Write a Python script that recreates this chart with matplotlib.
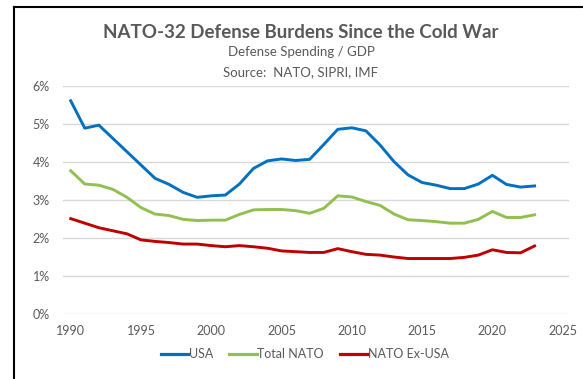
import matplotlib
matplotlib.use("Agg")
import matplotlib.pyplot as plt
from matplotlib.lines import Line2D
from matplotlib.ticker import FuncFormatter, MultipleLocator

plt.rcParams['font.family'] = ['Lato', 'DejaVu Sans']

years = list(range(1990, 2024))
usa = [5.61, 4.89, 4.97, 4.62, 4.27, 3.92, 3.57, 3.41, 3.20, 3.07,
       3.11, 3.13, 3.42, 3.83, 4.03, 4.08, 4.04, 4.07, 4.46, 4.86,
       4.90, 4.82, 4.45, 4.01, 3.66, 3.46, 3.39, 3.30, 3.30, 3.42,
       3.65, 3.41, 3.34, 3.37]
total_nato = [3.77, 3.42, 3.39, 3.28, 3.07, 2.80, 2.63, 2.59, 2.49, 2.46,
              2.47, 2.47, 2.62, 2.74, 2.75, 2.75, 2.72, 2.65, 2.78, 3.11,
              3.08, 2.96, 2.86, 2.63, 2.48, 2.46, 2.43, 2.39, 2.39, 2.49,
              2.70, 2.54, 2.54, 2.61]
nato_ex_usa = [2.51, 2.39, 2.27, 2.19, 2.11, 1.95, 1.91, 1.88, 1.84, 1.84,
               1.80, 1.77, 1.80, 1.77, 1.73, 1.66, 1.64, 1.62, 1.62, 1.72,
               1.64, 1.57, 1.55, 1.50, 1.46, 1.46, 1.46, 1.46, 1.49, 1.55,
               1.69, 1.62, 1.61, 1.79]
series_names = ["USA", "Total NATO", "NATO Ex-USA"]
colors = ["#0070C0", "#92C050", "#C00000"]
title = "NATO-32 Defense Burdens Since the Cold War"
subtitle1 = "Defense Spending / GDP"
subtitle2 = "Source:  NATO, SIPRI, IMF"

W, H = 583, 379
fig = plt.figure(figsize=(W / 100, H / 100), dpi=100)
ax = fig.add_axes([63 / W, 1 - 314 / H, (569 - 63) / W, (314 - 86) / H])

for vals, name, c in zip([usa, total_nato, nato_ex_usa], series_names, colors):
    ax.plot(years, vals, color=c, lw=2.1, label=name, solid_joinstyle='round')

ax.set_xlim(1989.45, 2025.45)
ax.set_ylim(0, 6)
ax.xaxis.set_major_locator(MultipleLocator(5))
ax.yaxis.set_major_locator(MultipleLocator(1))
ax.yaxis.set_major_formatter(FuncFormatter(lambda v, p: f"{int(round(v))}%"))
ax.grid(axis='y', color='#D9D9D9', lw=1)
ax.set_axisbelow(True)
for s in ax.spines.values():
    s.set_visible(False)
ax.tick_params(length=0, colors='#595959', labelsize=9)
ax.tick_params(axis='x', pad=8)
ax.tick_params(axis='y', pad=9.5)

fig.text(301 / W, 1 - 32 / H, title, ha='center', va='center',
         fontsize=13.5, fontweight='bold', color='#595959')
fig.text(301 / W, 1 - 52 / H, subtitle1, ha='center', va='center',
         fontsize=9.5, color='#595959')
fig.text(301 / W, 1 - 72 / H, subtitle2, ha='center', va='center',
         fontsize=9.5, color='#595959')

handles = [Line2D([0], [0], color=c, lw=2.3) for c in colors]
fig.legend(handles, series_names, loc='center', bbox_to_anchor=(305 / W, 1 - 354 / H),
           ncol=3, frameon=False, fontsize=9, labelcolor='#595959',
           handlelength=2.2, handletextpad=0.05, columnspacing=1.3)

# outer frame (left and top edges)
fig.add_artist(Line2D([14 / W, 14 / W], [0, 1 - 7 / H], transform=fig.transFigure,
                      color='black', lw=1.5))
fig.add_artist(Line2D([14 / W, 1], [1 - 7 / H, 1 - 7 / H], transform=fig.transFigure,
                      color='black', lw=1.5))

fig.savefig("out.png", dpi=100)
